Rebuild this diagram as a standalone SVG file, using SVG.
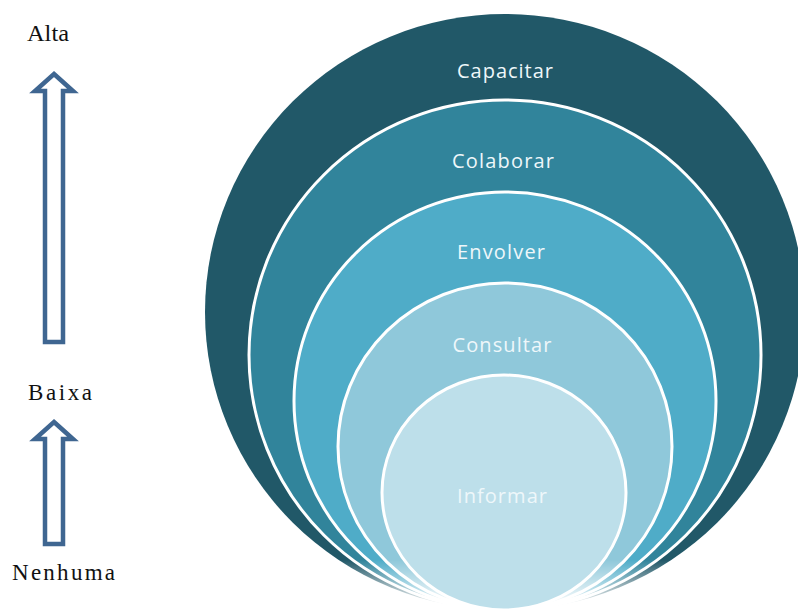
<svg xmlns="http://www.w3.org/2000/svg" width="798" height="612" viewBox="0 0 798 612">
  <style>
    .ring { stroke: #ffffff; stroke-width: 3; }
    .lbl { font-family: "Open Sans", "DejaVu Sans", sans-serif; font-size: 20px; fill: #eef7fa; text-anchor: middle; }
    .side { font-family: "Liberation Serif", "Times New Roman", serif; font-size: 23px; fill: #111111; }
    .arrow { fill: #ffffff; stroke: #3f6691; stroke-width: 4.5; stroke-linejoin: miter; }
  </style>
  <defs>
    <linearGradient id="fade" gradientUnits="userSpaceOnUse" x1="0" y1="560" x2="0" y2="608">
      <stop offset="0" stop-color="#ffffff"/>
      <stop offset="1" stop-color="#000000"/>
    </linearGradient>
    <mask id="fadeMask" maskUnits="userSpaceOnUse" x="0" y="0" width="798" height="612">
      <rect x="0" y="0" width="798" height="612" fill="url(#fade)"/>
    </mask>
  </defs>

  <rect x="0" y="0" width="798" height="612" fill="#ffffff"/>

  <g id="scale">
    <g id="arrow-high">
      <polygon class="arrow" points="54,74 73,91 63,91 63,342 45,342 45,91 35,91"/>
    </g>
    <g id="arrow-low">
      <polygon class="arrow" points="54,422 73,439 63,439 63,544 45,544 45,439 35,439"/>
    </g>
    <text id="label-alta" class="side" x="27" y="41" textLength="42" lengthAdjust="spacingAndGlyphs">Alta</text>
    <text id="label-baixa" class="side" x="28" y="400" textLength="64" lengthAdjust="spacing">Baixa</text>
    <text id="label-nenhuma" class="side" x="12" y="580" textLength="103" lengthAdjust="spacing">Nenhuma</text>
  </g>

  <g id="rings" mask="url(#fadeMask)">
    <g id="capacitar">
      <ellipse cx="505" cy="312" rx="300" ry="298" fill="#215868"/>
    </g>
    <g id="colaborar">
      <ellipse class="ring" cx="505" cy="355" rx="256" ry="255" fill="#31849b"/>
    </g>
    <g id="envolver">
      <ellipse class="ring" cx="505" cy="401" rx="211" ry="209" fill="#4facc8"/>
    </g>
    <g id="consultar">
      <ellipse class="ring" cx="505" cy="446.5" rx="167" ry="163.5" fill="#8fc8da"/>
    </g>
  </g>
  <g id="informar">
    <ellipse class="ring" cx="504" cy="492.5" rx="122" ry="117.5" fill="#bddfea"/>
  </g>

  <g id="labels">
    <text class="lbl" x="505" y="78" textLength="96" lengthAdjust="spacing">Capacitar</text>
    <text class="lbl" x="503" y="168" textLength="102" lengthAdjust="spacing">Colaborar</text>
    <text class="lbl" x="501" y="259" textLength="88" lengthAdjust="spacing">Envolver</text>
    <text class="lbl" x="502" y="352" textLength="99" lengthAdjust="spacing">Consultar</text>
    <text class="lbl" x="502" y="503" textLength="90" lengthAdjust="spacing">Informar</text>
  </g>
</svg>
